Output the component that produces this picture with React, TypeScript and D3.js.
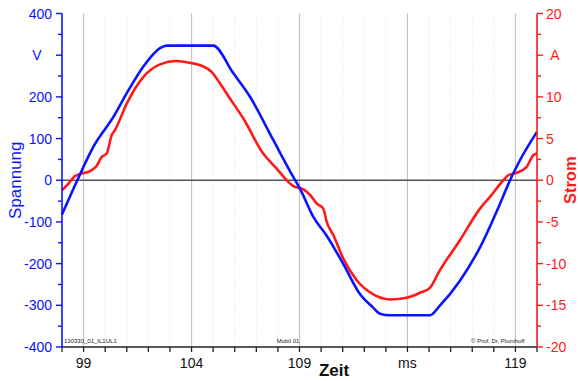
import React from 'react';
import * as d3 from 'd3';

const width = 578;
const height = 381;
const margin = { top: 13.5, right: 41, bottom: 34, left: 62 };

// Spannung (V) über Zeit (ms)
const voltTime = [98.0, 98.71, 99.45, 100.38, 101.0, 101.77, 102.54, 102.85, 105.0, 105.93, 106.7, 107.79, 108.71, 109.02, 109.64, 110.26, 111.03, 111.8, 112.4, 112.73, 113.2, 115.04, 115.5, 116.43, 117.36, 118.29, 118.75, 119.21, 120.0];
const voltValues = [-82, 0, 80, 152, 209, 273, 317, 323, 323, 257, 201, 96, 8, -20, -88, -133, -201, -273, -305, -320, -324, -324, -301, -241, -161, -56, 0, 48, 116];

// Strom (A) über Zeit (ms)
const ampTime = [98.0, 98.3, 98.6, 98.91, 99.3, 99.6, 99.84, 100.07, 100.3, 100.45, 101.0, 101.77, 102.54, 103.3, 103.9, 104.5, 104.93, 105.32, 105.78, 106.4, 107.32, 107.94, 108.48, 108.71, 109.18, 109.5, 109.8, 110.1, 110.26, 110.57, 111.03, 111.65, 112.42, 113.19, 113.96, 114.58, 115.04, 115.5, 116.43, 117.36, 117.82, 118.44, 118.67, 119.06, 119.52, 119.83, 120.0];
const ampValues = [-1.2, -0.4, 0.5, 0.8, 1.1, 1.7, 2.8, 3.2, 5.4, 6.0, 9.2, 12.4, 13.9, 14.3, 14.1, 13.7, 13.0, 11.6, 9.8, 7.4, 3.2, 1.4, -0.2, -0.7, -1.1, -1.8, -2.8, -3.4, -5.0, -6.6, -9.4, -12.0, -13.7, -14.3, -14.1, -13.5, -12.9, -10.8, -7.2, -3.4, -2.0, 0, 0.6, 0.9, 1.6, 3.0, 3.2];

const xMajor = [99, 104, 109, 114, 119];
const xMajorLabels = ['99', '104', '109', 'ms', '119'];
const voltTicks = [400, 300, 200, 100, 0, -100, -200, -300, -400];
const voltLabels = ['400', 'V', '200', '100', '0', '-100', '-200', '-300', '-400'];
const ampTicks = [20, 15, 10, 5, 0, -5, -10, -15, -20];
const ampLabels = ['20', 'A', '10', '5', '0', '-5', '-10', '-15', '-20'];

const BLUE = '#0a14ff';
const RED = '#ff1a1a';
const FONT = '"Liberation Sans", Arial, sans-serif';

export default function App() {
  const x = d3.scaleLinear().domain([98, 120]).range([margin.left, width - margin.right]);
  const yV = d3.scaleLinear().domain([-400, 400]).range([height - margin.bottom, margin.top]);
  const yA = d3.scaleLinear().domain([-20, 20]).range([height - margin.bottom, margin.top]);

  const x0 = x(98);
  const x1 = x(120);
  const yTop = yV(400);
  const yBot = yV(-400);

  const voltLine = d3.line<number>()
    .x((_, i) => x(voltTime[i]))
    .y(d => yV(d))
    .curve(d3.curveMonotoneX);
  const ampLine = d3.line<number>()
    .x((_, i) => x(ampTime[i]))
    .y(d => yA(d))
    .curve(d3.curveMonotoneX);

  const minorX = d3.range(98, 121, 1);
  const minorV = d3.range(-400, 401, 50);
  const minorA = d3.range(-20, 20.1, 2.5);

  return (
    <svg width={width} height={height} style={{ position: 'absolute', left: 0, top: 0, fontFamily: FONT }}>
      <rect width={width} height={height} fill="white" />

      {/* dotted minor grid */}
      {minorX.filter(t => !xMajor.includes(t) && t !== 98 && t !== 120).map(t => (
        <line key={'g' + t} x1={x(t)} x2={x(t)} y1={yTop} y2={yBot} stroke="#e2e2e2" strokeDasharray="1,2" />
      ))}
      {/* major grid */}
      {xMajor.map(t => (
        <line key={'G' + t} x1={x(t)} x2={x(t)} y1={yTop} y2={yBot} stroke="#c4c4c4" strokeWidth={1.2} />
      ))}

      {/* zero line */}
      <line x1={x0} x2={x1} y1={yV(0)} y2={yV(0)} stroke="#555" strokeWidth={1.6} />

      {/* small texts */}
      <text x={x0 + 2} y={yBot - 4} fontSize={6} fill="#222">130330_01_IL1UL1</text>
      <text x={288} y={yBot - 4} fontSize={6} fill="#222" textAnchor="middle">Mobil 01</text>
      <text x={x(119) + 9} y={yBot - 4} fontSize={6} fill="#222" textAnchor="end">© Prof. Dr. Plumhoff</text>

      {/* curves */}
      <path d={ampLine(ampValues) ?? ''} fill="none" stroke={RED} strokeWidth={2.6} strokeLinejoin="round" />
      <path d={voltLine(voltValues) ?? ''} fill="none" stroke={BLUE} strokeWidth={2.6} strokeLinejoin="round" />

      {/* x axis */}
      <line x1={x0} x2={x1} y1={yBot} y2={yBot} stroke="#222" strokeWidth={1.5} />
      {minorX.map(t => (
        <line key={'xt' + t} x1={x(t)} x2={x(t)} y1={yBot} y2={yBot + 5} stroke="#222" strokeWidth={1.3} />
      ))}
      {xMajor.map((t, i) => (
        <text key={'xl' + t} x={x(t)} y={yBot + 21} fontSize={14} textAnchor="middle" fill="#111">{xMajorLabels[i]}</text>
      ))}
      <text x={334} y={376} fontSize={17} fontWeight="bold" textAnchor="middle" fill="#111">Zeit</text>

      {/* left axis */}
      <line x1={x0} x2={x0} y1={yTop} y2={yBot} stroke={BLUE} strokeWidth={1.6} />
      {minorV.map(v => (
        <line key={'vm' + v} x1={x0 - (v % 100 === 0 ? 6 : 4)} x2={x0} y1={yV(v)} y2={yV(v)} stroke={BLUE} strokeWidth={1.4} />
      ))}
      {voltTicks.map((v, i) => (
        <text key={'vl' + v} x={voltLabels[i] === 'V' ? 37 : 52} y={yV(v) + 5} fontSize={14}
          textAnchor={voltLabels[i] === 'V' ? 'middle' : 'end'} fill={BLUE}>{voltLabels[i]}</text>
      ))}
      <text transform={`translate(21,${yV(0)}) rotate(-90)`} fontSize={17} textAnchor="middle" fill={BLUE}>Spannung</text>

      {/* right axis */}
      <line x1={x1} x2={x1} y1={yTop} y2={yBot} stroke={RED} strokeWidth={1.6} />
      {minorA.map(a => (
        <line key={'am' + a} x1={x1} x2={x1 + (a % 5 === 0 ? 6 : 4)} y1={yA(a)} y2={yA(a)} stroke={RED} strokeWidth={1.4} />
      ))}
      {ampTicks.map((a, i) => (
        <text key={'al' + a} x={ampLabels[i] === 'A' ? 555 : 546} y={yA(a) + 5} fontSize={14}
          textAnchor={ampLabels[i] === 'A' ? 'middle' : 'start'} fill={RED}>{ampLabels[i]}</text>
      ))}
      <text transform={`translate(576,${yA(0)}) rotate(-90)`} fontSize={16.5} fontWeight="bold" textAnchor="middle" fill={RED}>Strom</text>
    </svg>
  );
}
